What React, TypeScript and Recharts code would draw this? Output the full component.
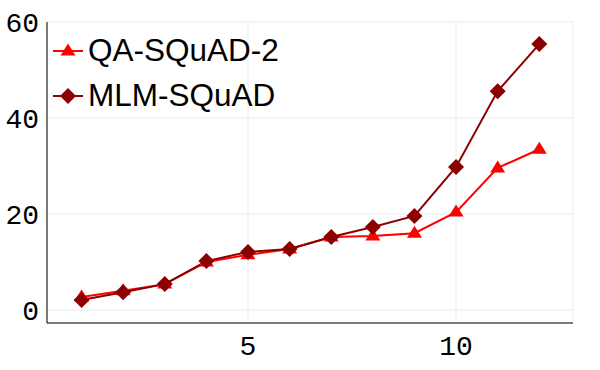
import { LineChart, Line, XAxis, YAxis, CartesianGrid } from "recharts";

const steps = [1, 2, 3, 4, 5, 6, 7, 8, 9, 10, 11, 12];
const qaSquad2 = [2.7, 4.0, 5.4, 10.0, 11.5, 12.7, 15.2, 15.4, 16.0, 20.4, 29.6, 33.5];
const mlmSquad = [2.1, 3.7, 5.4, 10.2, 12.1, 12.7, 15.2, 17.3, 19.6, 29.8, 45.6, 55.4];
const xTicks = [5, 10];
const yTicks = [0, 20, 40, 60];

const RED = "#ff0000";
const DARK = "#8b0000";

const data = steps.map((s, i) => ({ step: s, qa: qaSquad2[i], mlm: mlmSquad[i] }));

function Triangle({ cx, cy, fill }: any) {
  if (cx == null || cy == null) return null;
  const r = 7.5;
  return (
    <polygon
      points={`${cx},${cy - r} ${cx + r},${cy + r * 0.6} ${cx - r},${cy + r * 0.6}`}
      fill={fill}
    />
  );
}

function Diamond({ cx, cy, fill }: any) {
  if (cx == null || cy == null) return null;
  const r = 8;
  return (
    <polygon points={`${cx},${cy - r} ${cx + r},${cy} ${cx},${cy + r} ${cx - r},${cy}`} fill={fill} />
  );
}

const legendItems = [
  { name: "QA-SQuAD-2", color: RED, Shape: Triangle },
  { name: "MLM-SQuAD", color: DARK, Shape: Diamond },
];

// legend sits inside the plot, top-left
function LegendBox() {
  return (
    <div
      style={{
        position: "absolute",
        left: 53,
        top: 28,
        fontFamily: "'Liberation Sans', Arial, sans-serif",
        fontSize: 31.5,
        color: "#000",
        lineHeight: 1,
      }}
    >
      {legendItems.map(({ name, color, Shape }) => (
        <div key={name} style={{ display: "flex", alignItems: "center", height: 45 }}>
          <svg width={30} height={20} style={{ marginRight: 5 }}>
            <line x1={0} y1={10} x2={30} y2={10} stroke={color} strokeWidth={2} />
            <Shape cx={15} cy={10} fill={color} />
          </svg>
          <span>{name}</span>
        </div>
      ))}
    </div>
  );
}

const tickStyle = { fontFamily: "'Liberation Mono', monospace", fontSize: 28, fill: "#000" };

export default function App() {
  return (
    <div style={{ position: "absolute", left: 0, top: 0, width: 600, height: 370, background: "#fff" }}>
      <LineChart width={600} height={370} data={data} margin={{ top: 22, right: 27, bottom: 0, left: 0 }}>
        <CartesianGrid stroke="#ebebeb" strokeWidth={1} />
        <XAxis
          dataKey="step"
          type="number"
          domain={[0.17, 12.81]}
          ticks={xTicks}
          tickLine={false}
          axisLine={{ stroke: "#000" }}
          tick={tickStyle}
          height={47}
          tickMargin={6}
          allowDataOverflow
        />
        <YAxis
          type="number"
          domain={[-2.7, 60]}
          ticks={yTicks}
          tickLine={false}
          axisLine={{ stroke: "#000" }}
          tick={tickStyle}
          width={47}
          tickMargin={2}
          allowDataOverflow
        />
        <Line
          dataKey="qa"
          name="QA-SQuAD-2"
          stroke={RED}
          strokeWidth={2}
          dot={(p: any) => <Triangle key={`t${p.index}`} cx={p.cx} cy={p.cy} fill={RED} />}
          activeDot={false}
          isAnimationActive={false}
        />
        <Line
          dataKey="mlm"
          name="MLM-SQuAD"
          stroke={DARK}
          strokeWidth={2}
          dot={(p: any) => <Diamond key={`d${p.index}`} cx={p.cx} cy={p.cy} fill={DARK} />}
          activeDot={false}
          isAnimationActive={false}
        />
      </LineChart>
      <LegendBox />
    </div>
  );
}
